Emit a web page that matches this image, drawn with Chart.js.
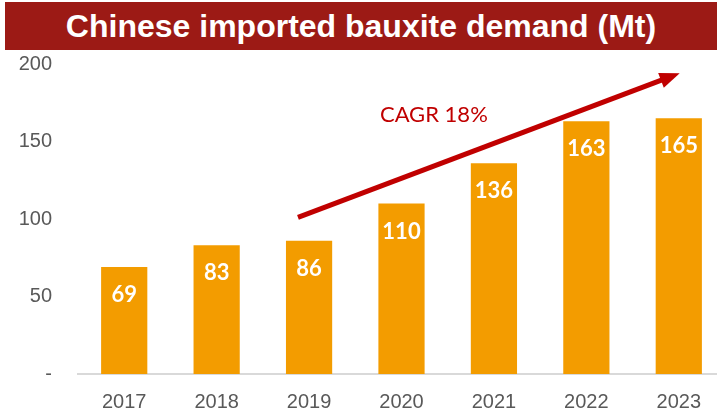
<!DOCTYPE html>
<html>
<head>
<meta charset="utf-8">
<script src="https://cdn.jsdelivr.net/npm/chart.js@4"></script>
<style>
  body { margin: 0; background: #fff; width: 717px; height: 411px; overflow: hidden; position: relative; }
  #title {
    position: absolute; left: 5px; top: 2px; width: 712px; height: 48px;
    background: #9c1a15; color: #fff; text-align: center;
    font: bold 32px "Liberation Sans", Arial, sans-serif; line-height: 48px;
  }
  #wrap { position: absolute; left: 0; top: 0; width: 725px; height: 430px; }
</style>
</head>
<body>
<div id="wrap"><canvas id="chart" width="725" height="430"></canvas></div>
<div id="title">Chinese imported bauxite demand (Mt)</div>
<script>
// data
var years = ["2017", "2018", "2019", "2020", "2021", "2022", "2023"];
var demand = [69, 83, 86, 110, 136, 163, 165];
var yTicks = [0, 50, 100, 150, 200];
// arrow ends in data units [category index, value]
var arrowFrom = [1.88, 101];
var arrowTo = [6.01, 194];
var cagrText = "CAGR 18%";
var cagrAt = [3.35, 167];

// labels in de staven + pijl
var extras = {
    id: "extras",
    afterDatasetsDraw: function (chart) {
        var ctx = chart.ctx;
        var x = chart.scales.x, y = chart.scales.y;
        var meta = chart.getDatasetMeta(0);
        ctx.save();
        ctx.fillStyle = "#fff";
        ctx.font = "bold 22px Lato, 'Open Sans', sans-serif";
        ctx.textAlign = "center";
        ctx.textBaseline = "middle";
        meta.data.forEach(function (bar, i) {
            ctx.fillText(demand[i], bar.x, bar.y + 28);
        });

        // pijl
        var x1 = x.getPixelForValue(arrowFrom[0]), y1 = y.getPixelForValue(arrowFrom[1]);
        var x2 = x.getPixelForValue(arrowTo[0]), y2 = y.getPixelForValue(arrowTo[1]);
        var ang = Math.atan2(y2 - y1, x2 - x1);
        var head = 20;
        ctx.strokeStyle = "#c00000";
        ctx.fillStyle = "#c00000";
        ctx.lineWidth = 5;
        ctx.beginPath();
        ctx.moveTo(x1, y1);
        ctx.lineTo(x2 - head * 0.8 * Math.cos(ang), y2 - head * 0.8 * Math.sin(ang));
        ctx.stroke();
        ctx.beginPath();
        ctx.moveTo(x2, y2);
        ctx.lineTo(x2 - head * Math.cos(ang) + 8 * Math.sin(ang), y2 - head * Math.sin(ang) - 8 * Math.cos(ang));
        ctx.lineTo(x2 - head * Math.cos(ang) - 8 * Math.sin(ang), y2 - head * Math.sin(ang) + 8 * Math.cos(ang));
        ctx.closePath();
        ctx.fill();

        ctx.font = "22px Lato, 'Open Sans', sans-serif";
        ctx.fillText(cagrText, x.getPixelForValue(cagrAt[0]), y.getPixelForValue(cagrAt[1]));
        ctx.restore();
    }
};

var ctx = document.getElementById("chart").getContext("2d");
var chart = new Chart(ctx, {
    type: "bar",
    data: {
        labels: years,
        datasets: [
            {
                label: "Demand",
                data: demand,
                backgroundColor: "#f39c00",
                barPercentage: 0.5,
                categoryPercentage: 1.0
            }
        ]
    },
    options: {
        responsive: false,
        animation: false,
        layout: { padding: { top: 64, right: 0, bottom: 0, left: 0 } },
        plugins: { legend: { display: false }, tooltip: { enabled: false } },
        scales: {
            x: {
                grid: { display: false, drawTicks: false },
                border: { color: "#d9d9d9", width: 2 },
                ticks: { color: "#595959", font: { family: "'Liberation Sans', Arial", size: 20 }, padding: 16 }
            },
            y: {
                min: 0,
                max: 200,
                afterBuildTicks: function (s) { s.ticks = yTicks.map(function (v) { return { value: v }; }); },
                afterFit: function (s) { s.width = 78; },
                grid: { display: false, drawTicks: false },
                border: { display: false },
                ticks: {
                    color: "#595959",
                    padding: 26,
                    font: { family: "'Liberation Sans', Arial", size: 20 },
                    callback: function (v) { return v === 0 ? "-" : v; }
                }
            }
        }
    },
    plugins: [extras]
});
</script>
</body>
</html>
